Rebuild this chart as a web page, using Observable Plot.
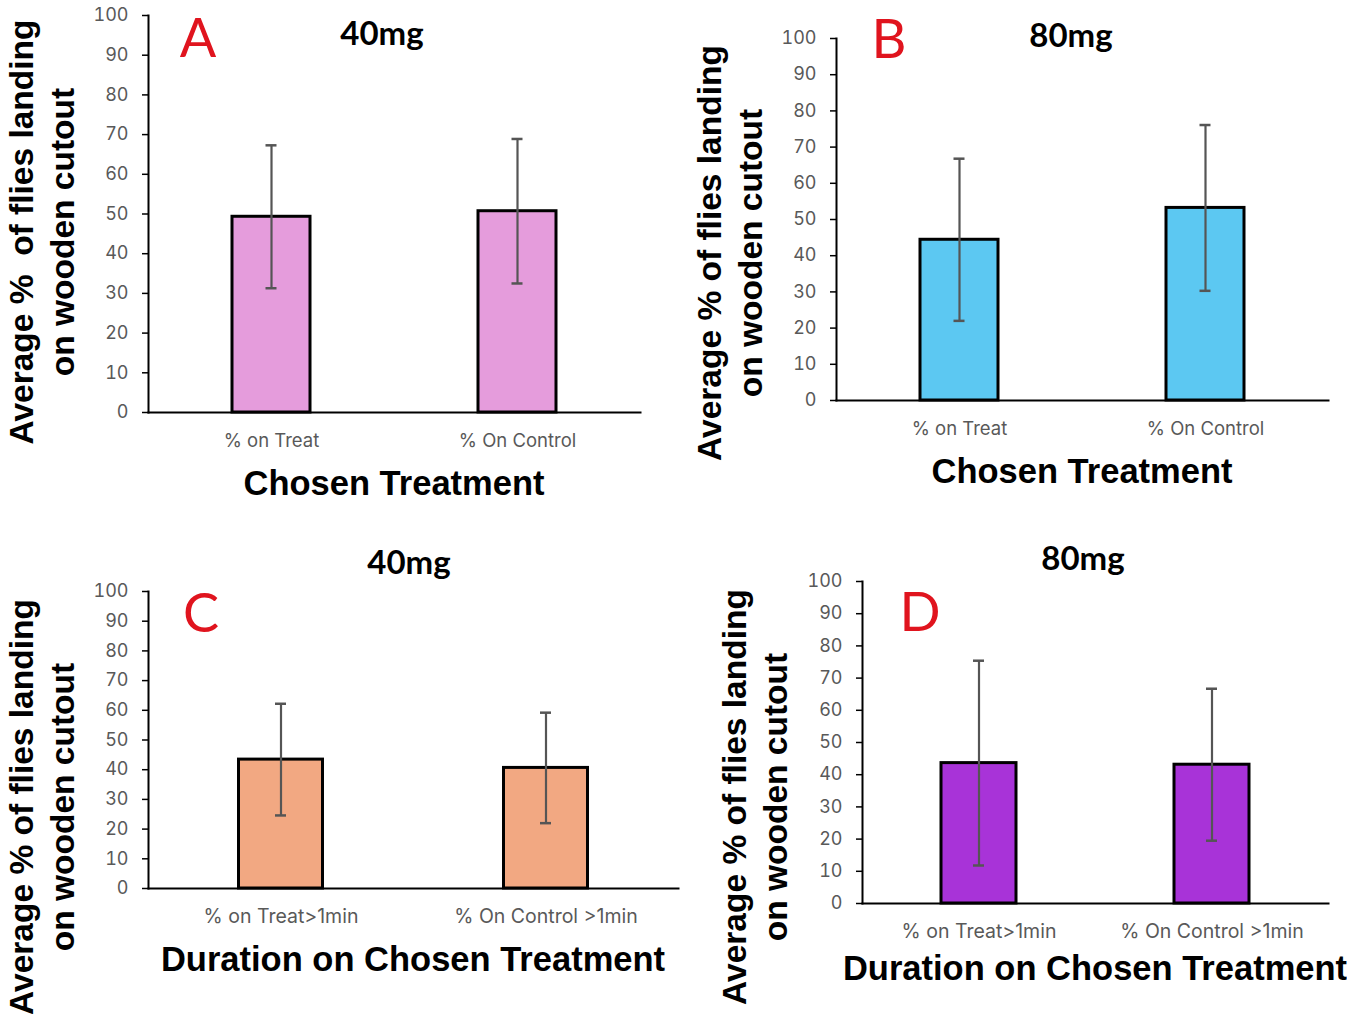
<!DOCTYPE html>
<html>
<head>
<meta charset="utf-8">
<script src="https://cdn.jsdelivr.net/npm/d3@7"></script>
<script src="https://cdn.jsdelivr.net/npm/@observablehq/plot@0.6"></script>
<style>
  html, body { margin: 0; padding: 0; background: #fff; }
  #root { position: relative; width: 1347px; height: 1014px; overflow: hidden; background: #fff; }
  .t { position: absolute; transform: translate(-50%, -50%); white-space: pre; }
  .ytitle { position: absolute; transform: translate(-50%, -50%) rotate(-90deg); white-space: pre; text-align: center;
            font-family: "Liberation Sans", Arial, sans-serif; font-weight: bold; font-size: 33.5px; line-height: 41px; color: #000; }
  .xtitle { font-family: "Liberation Sans", Arial, sans-serif; font-weight: bold; font-size: 34.5px; color: #000; }
  .ptitle { font-family: Lato, "Open Sans", sans-serif; font-weight: bold; font-size: 33px; color: #000; }
  .letter { font-family: Lato, "Open Sans", sans-serif; font-size: 54px; color: #E0141E; }
</style>
</head>
<body>
<div id="root"></div>
<script>
// ---- data ----
const categoriesChosen = ["% on Treat", "% On Control"];
const categoriesDuration = ["% on Treat>1min", "% On Control >1min"];
const yTicks = [0, 10, 20, 30, 40, 50, 60, 70, 80, 90, 100];

const meansA = [49.3, 50.7];
const errA = [18.0, 18.2];
const meansB = [44.4, 53.2];
const errB = [22.4, 22.9];
const meansC = [43.4, 40.6];
const errC = [18.8, 18.6];
const meansD = [43.6, 43.1];
const errD = [31.8, 23.6];

const panelTitles = ["40mg", "80mg", "40mg", "80mg"];
const panelLetters = ["A", "B", "C", "D"];
const xTitles = ["Chosen Treatment", "Chosen Treatment", "Duration on Chosen Treatment", "Duration on Chosen Treatment"];
const yTitleA = "Average %  of flies landing\non wooden cutout";
const yTitle = "Average % of flies landing\non wooden cutout";
const colors = ["#E59CDC", "#5CC8F2", "#F2A882", "#A833D8"];

const root = document.getElementById("root");

function panel(cfg) {
  const data = cfg.cats.map((c, i) => ({cat: c, mean: cfg.means[i], lo: cfg.means[i] - cfg.err[i], hi: cfg.means[i] + cfg.err[i]}));
  const plotW = cfg.width - cfg.ml - cfg.mr;
  const band = plotW / cfg.cats.length;
  const barInset = (band - cfg.barW) / 2;
  const capInset = (band - 11) / 2;
  const chart = Plot.plot({
    width: cfg.width,
    height: cfg.height,
    marginLeft: cfg.ml, marginRight: cfg.mr, marginTop: cfg.mt, marginBottom: cfg.mb,
    style: {fontFamily: "Inter, Liberation Sans, Arial, sans-serif", background: "transparent", overflow: "visible"},
    x: {domain: cfg.cats, padding: 0, label: null},
    y: {domain: [0, 100], label: null},
    marks: [
      Plot.barY(data, {x: "cat", y: "mean", fill: cfg.color, stroke: "#000", strokeWidth: 3, insetLeft: barInset, insetRight: barInset}),
      Plot.ruleX(data, {x: "cat", y1: "lo", y2: "hi", stroke: "#555", strokeWidth: 2.2}),
      Plot.tickY(data, {x: "cat", y: "hi", stroke: "#555", strokeWidth: 2.5, insetLeft: capInset, insetRight: capInset}),
      Plot.tickY(data, {x: "cat", y: "lo", stroke: "#555", strokeWidth: 2.5, insetLeft: capInset, insetRight: capInset}),
      Plot.frame({anchor: "left", stroke: "#000", strokeWidth: 2}),
      Plot.frame({anchor: "bottom", stroke: "#000", strokeWidth: 2}),
      Plot.axisY({ticks: yTicks, tickSize: 6, tickPadding: 14, stroke: "#000", strokeWidth: 1.5, fill: "#595959", fontSize: 18, label: null}),
      Plot.axisX({tickSize: 0, tickPadding: 21, fill: "#595959", fontSize: cfg.xfs, label: null})
    ]
  });
  chart.style.position = "absolute";
  chart.style.left = cfg.left + "px";
  chart.style.top = cfg.top + "px";
  root.appendChild(chart);
}

function text(cls, str, x, y) {
  const d = document.createElement("div");
  d.className = cls;
  d.textContent = str;
  d.style.left = x + "px";
  d.style.top = y + "px";
  root.appendChild(d);
  return d;
}

// Panel A
panel({cats: categoriesChosen, means: meansA, err: errA, color: colors[0], left: 0, top: 0, width: 660, height: 470, ml: 148, mr: 20, mt: 15, mb: 58, barW: 78, xfs: 18.5});
// Panel B
panel({cats: categoriesChosen, means: meansB, err: errB, color: colors[1], left: 690, top: 0, width: 657, height: 470, ml: 146, mr: 19, mt: 38, mb: 70, barW: 78, xfs: 18.5});
// Panel C
panel({cats: categoriesDuration, means: meansC, err: errC, color: colors[2], left: 0, top: 540, width: 700, height: 400, ml: 148, mr: 22, mt: 51, mb: 52, barW: 84, xfs: 19.5});
// Panel D
panel({cats: categoriesDuration, means: meansD, err: errD, color: colors[3], left: 700, top: 540, width: 647, height: 400, ml: 162, mr: 19, mt: 41, mb: 37, barW: 75, xfs: 19.5});

// titles
text("t ptitle", panelTitles[0], 382, 32);
text("t ptitle", panelTitles[1], 1071, 34);
text("t ptitle", panelTitles[2], 409, 561);
text("t ptitle", panelTitles[3], 1083, 557);

text("t letter", panelLetters[0], 198, 36);
text("t letter", panelLetters[1], 889, 37);
text("t letter", panelLetters[2], 201, 611);
text("t letter", panelLetters[3], 920, 610);

text("t xtitle", xTitles[0], 394, 483);
text("t xtitle", xTitles[1], 1082, 471);
text("t xtitle", xTitles[2], 413, 959);
text("t xtitle", xTitles[3], 1095, 968);

text("ytitle", yTitleA, 42, 232);
text("ytitle", yTitle, 730, 253);
text("ytitle", yTitle, 42, 807);
text("ytitle", yTitle, 755, 797);
</script>
</body>
</html>
